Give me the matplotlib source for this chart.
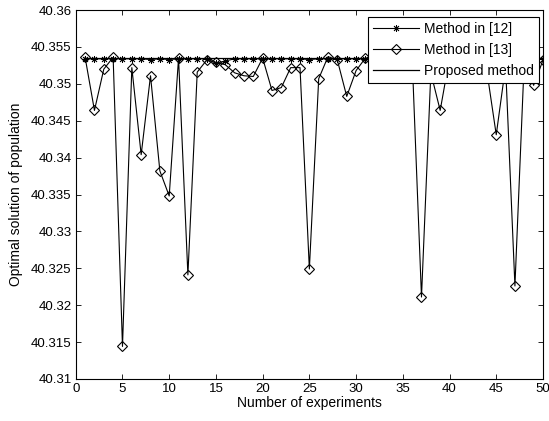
import matplotlib
matplotlib.use("Agg")
import matplotlib.pyplot as plt

plt.rcParams['font.family'] = ['Liberation Sans', 'DejaVu Sans']

experiments = list(range(1, 51))

method_12 = [
    40.3534, 40.3534, 40.3534, 40.3534, 40.3534, 40.3534, 40.3534, 40.3533, 40.3534, 40.3533,
    40.3534, 40.3534, 40.3534, 40.3534, 40.3528, 40.3531, 40.3534, 40.3534, 40.3534, 40.3534,
    40.3534, 40.3534, 40.3534, 40.3534, 40.3533, 40.3534, 40.3534, 40.3534, 40.3534, 40.3534,
    40.3534, 40.3534, 40.3534, 40.3534, 40.3534, 40.3534, 40.3534, 40.3534, 40.3534, 40.3534,
    40.3534, 40.3534, 40.3534, 40.3534, 40.3534, 40.3534, 40.3534, 40.3534, 40.3534, 40.3534,
]

method_13 = [
    40.3536, 40.3464, 40.3520, 40.3536, 40.3144, 40.3522, 40.3404, 40.3511, 40.3382, 40.3348,
    40.3535, 40.3241, 40.3516, 40.3532, 40.3529, 40.3526, 40.3515, 40.3511, 40.3510, 40.3535,
    40.3491, 40.3495, 40.3522, 40.3522, 40.3249, 40.3507, 40.3537, 40.3532, 40.3483, 40.3518,
    40.3535, 40.3534, 40.3530, 40.3535, 40.3533, 40.3535, 40.3211, 40.3515, 40.3464, 40.3535,
    40.3534, 40.3532, 40.3535, 40.3517, 40.3431, 40.3524, 40.3226, 40.3532, 40.3498, 40.3532,
]

proposed = [40.3535] * 50

x_ticks = [0, 5, 10, 15, 20, 25, 30, 35, 40, 45, 50]
y_ticks = [40.31, 40.315, 40.32, 40.325, 40.33, 40.335, 40.34, 40.345, 40.35, 40.355, 40.36]
y_tick_labels = ['40.31', '40.315', '40.32', '40.325', '40.33', '40.335',
                 '40.34', '40.345', '40.35', '40.355', '40.36']

fig = plt.figure(figsize=(5.49, 4.21), dpi=100)
ax = fig.add_axes([0.138, 0.1, 0.851, 0.876])

ax.plot(experiments, method_12, color='black', linewidth=0.8,
        marker=(8, 2, 0), markersize=5, markeredgewidth=0.6,
        label='Method in [12]')
ax.plot(experiments, method_13, color='black', linewidth=0.8,
        marker='D', markersize=5.5, markerfacecolor='none',
        markeredgewidth=0.8, label='Method in [13]')
ax.plot(experiments, proposed, color='black', linewidth=0.9,
        label='Proposed method')

ax.set_xlim(0, 50)
ax.set_ylim(40.31, 40.36)
ax.set_xticks(x_ticks)
ax.set_yticks(y_ticks)
ax.set_yticklabels(y_tick_labels)
ax.tick_params(direction='in', top=True, right=True, labelsize=9.5,
               length=3.5, width=0.6, pad=3)
for s in ax.spines.values():
    s.set_linewidth(0.8)

ax.set_xlabel('Number of experiments', fontsize=10, labelpad=1)
ax.set_ylabel('Optimal solution of population', fontsize=10, labelpad=6)

leg = ax.legend(loc='upper right', bbox_to_anchor=(0.9914, 0.9805),
                fontsize=10, frameon=True, fancybox=False,
                edgecolor='black', framealpha=1, borderaxespad=0,
                handlelength=3.3, borderpad=0.35, labelspacing=0.5,
                handletextpad=0.4)
leg.get_frame().set_linewidth(0.8)

fig.savefig('out.png', dpi=100)
